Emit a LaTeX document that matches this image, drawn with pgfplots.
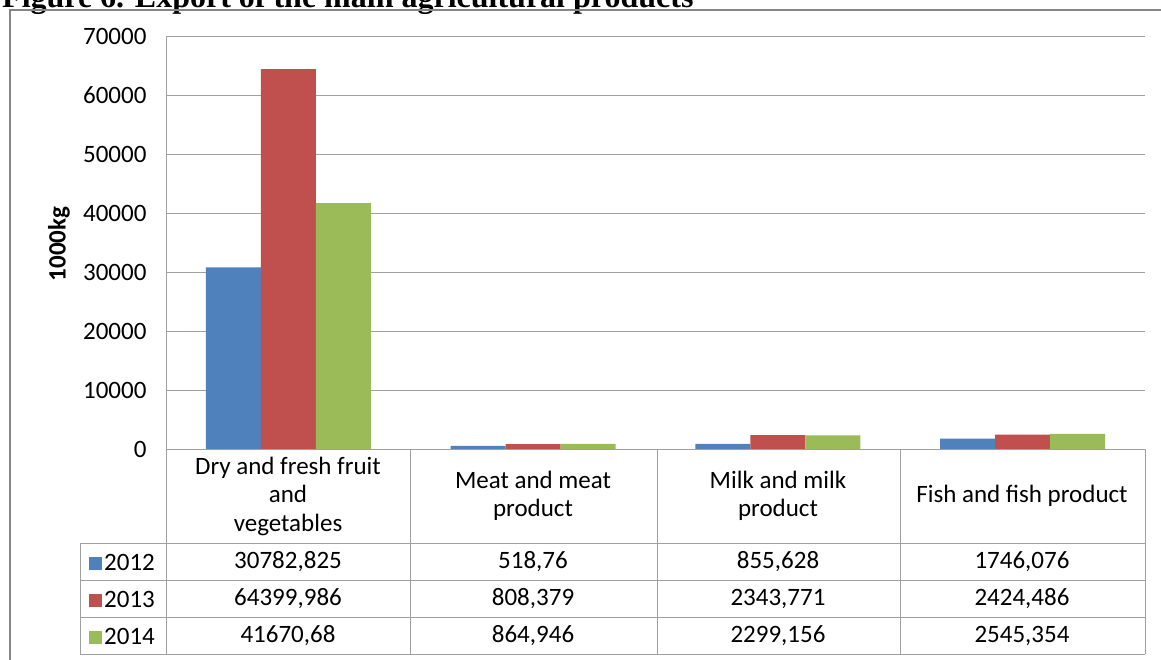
\documentclass[border=0pt]{standalone}
\usepackage{pgfplots}
\pgfplotsset{compat=1.18}
\usepackage{fontspec}
\setmainfont{Carlito}
\newfontfamily\titlefont{Liberation Serif}
\definecolor{cBlue}{RGB}{79,129,189}
\definecolor{cRed}{RGB}{192,80,77}
\definecolor{cGreen}{RGB}{155,187,89}
\definecolor{gridc}{RGB}{160,160,160}
\definecolor{framec}{RGB}{134,134,134}
\newcommand{\tf}{\fontsize{25}{28.5}\selectfont}
\begin{document}
\begin{tikzpicture}
\useasboundingbox (0pt,0pt) rectangle (1161pt,-659pt);
\clip (0pt,0pt) rectangle (1161pt,-659pt);
\begin{axis}[
  at={(166pt,-449pt)}, anchor=south west,
  scale only axis, width=979pt, height=413pt,
  xmin=-0.5, xmax=3.5, ymin=0, ymax=70000,
  axis x line=none, axis y line*=left,
  axis line style={draw=gridc, line width=1pt},
  ytick={0,10000,...,70000},
  scaled y ticks=false,
  major tick length=0pt,
  ymajorgrids, grid style={draw=gridc, line width=1pt},
  yticklabel style={font=\tf, xshift=-16pt},
  /pgf/number format/assume math mode=true,
  /pgf/number format/1000 sep={},
  ybar=0pt, bar width=55pt,
  clip=false,
]
\addplot[fill=cBlue, draw=none] coordinates {(0,30782.825) (1,518.76) (2,855.628) (3,1746.076)};
\addplot[fill=cRed, draw=none] coordinates {(0,64399.986) (1,808.379) (2,2343.771) (3,2424.486)};
\addplot[fill=cGreen, draw=none] coordinates {(0,41670.68) (1,864.946) (2,2299.156) (3,2545.354)};
\end{axis}
\begin{scope}[x=1pt,y=-1pt]
  % title (cut off at top, as in the reference)
  \node[anchor=base west, inner sep=0pt, font=\titlefont\bfseries\fontsize{32}{36}\selectfont] at (2,7) {Figure 6. Export of the main agricultural products};
  % outer frame
  \draw[framec, line width=1.5pt] (10,700) -- (10,10) -- (1200,10);
  % y label
  \node[rotate=90, font=\bfseries\fontsize{25}{28}\selectfont] at (59,244) {1000kg};
  % table lines
  \begin{scope}[draw=gridc, line width=1pt]
    \draw (166,449) -- (1145,449);
    \foreach \yy in {543,580,617,654} \draw (80,\yy) -- (1145,\yy);
    \draw (80,543) -- (80,654);
    \foreach \xx in {166,410,657,900,1145} \draw (\xx,449) -- (\xx,654);
  \end{scope}
  % header
  \node[align=center, font=\tf] at (288,496) {Dry and fresh fruit\\and\\vegetables};
  \node[align=center, font=\tf] at (533,496) {Meat and meat\\product};
  \node[align=center, font=\tf] at (778,496) {Milk and milk\\product};
  \node[align=center, font=\tf] at (1022,496) {Fish and fish product};
  % row labels
  \node[anchor=west, font=\tf, inner sep=0pt] at (89,562) {\textcolor{cBlue}{\rule{13pt}{13pt}}\hspace{2pt}2012};
  \node[anchor=west, font=\tf, inner sep=0pt] at (89,599) {\textcolor{cRed}{\rule{13pt}{13pt}}\hspace{2pt}2013};
  \node[anchor=west, font=\tf, inner sep=0pt] at (89,636) {\textcolor{cGreen}{\rule{13pt}{13pt}}\hspace{2pt}2014};
  % values
  \foreach \xc/\a/\b/\c in {288/30782{,}825/64399{,}986/41670{,}68, 533/518{,}76/808{,}379/864{,}946, 778/855{,}628/2343{,}771/2299{,}156, 1022/1746{,}076/2424{,}486/2545{,}354}{
    \node[font=\tf] at (\xc,562) {\a};
    \node[font=\tf] at (\xc,599) {\b};
    \node[font=\tf] at (\xc,636) {\c};
  }
\end{scope}
\end{tikzpicture}
\end{document}
